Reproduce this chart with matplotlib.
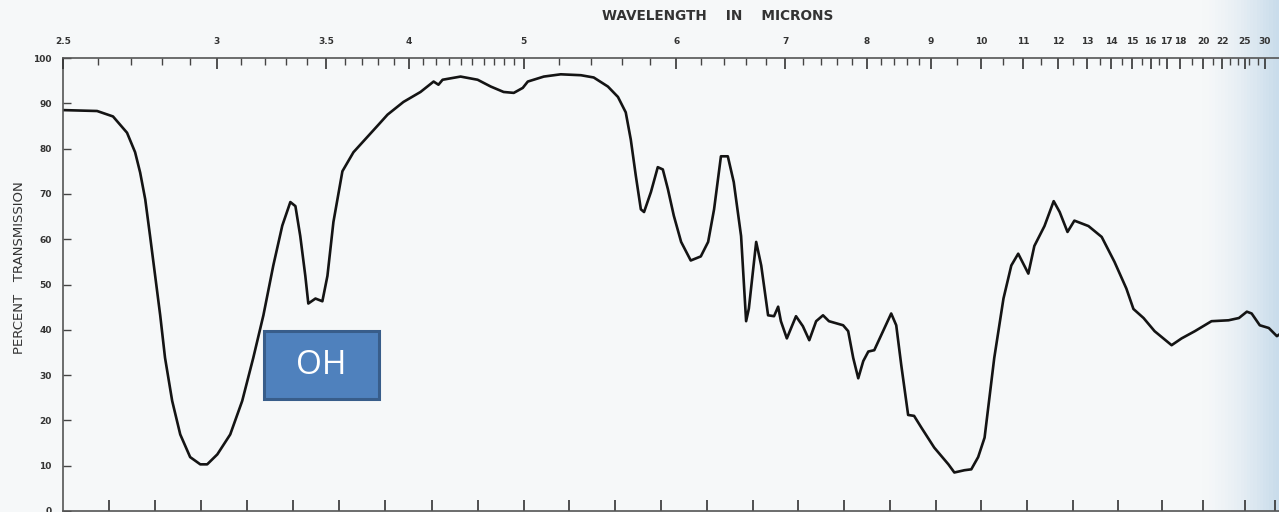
import numpy as np
import matplotlib.pyplot as plt
from matplotlib.colors import LinearSegmentedColormap
from matplotlib.patches import Rectangle
from matplotlib.ticker import FixedLocator, NullFormatter

# IR spectrum: wavenumber (cm-1) and percent transmission
wavenumber = [4000, 3852, 3783, 3722, 3687, 3665, 3643, 3622, 3600, 3578,
              3557, 3526, 3491, 3448, 3404, 3374, 3330, 3274, 3222, 3174,
              3130, 3087, 3048, 3013, 2991, 2970, 2948, 2935, 2904, 2874,
              2852, 2826, 2787, 2739, 2678, 2630, 2591, 2522, 2448, 2391,
              2370, 2352, 2274, 2200, 2143, 2087, 2043, 2004, 1991, 1956,
              1919, 1875, 1847, 1816, 1794, 1777, 1766, 1755, 1744, 1737,
              1722, 1707, 1696, 1685, 1672, 1656, 1635, 1613, 1597, 1584,
              1569, 1554, 1541, 1525, 1514, 1508, 1492, 1481, 1466, 1453,
              1444, 1438, 1425, 1405, 1390, 1376, 1361, 1346, 1333, 1302,
              1291, 1280, 1269, 1258, 1247, 1234, 1219, 1197, 1186, 1175,
              1160, 1147, 1131, 1103, 1072, 1059, 1037, 1022, 1007, 993,
              972, 952, 935, 920, 898, 885, 863, 843, 830, 813,
              798, 766, 736, 707, 680, 664, 641, 616, 576, 552,
              520, 480, 439, 414, 393, 377, 350, 320, 293, 280]
transmission = [88.5, 88.3, 87.1, 83.5, 79.2, 74.7, 68.8, 60.7, 51.9, 43.2,
                33.8, 24.3, 16.9, 11.9, 10.3, 10.3, 12.5, 16.9, 24.3, 33.8,
                43.2, 54.2, 63.0, 68.2, 67.3, 60.7, 51.9, 45.8, 46.9, 46.3,
                51.9, 63.8, 75.0, 79.2, 82.6, 85.3, 87.5, 90.3, 92.5, 94.8,
                94.1, 95.2, 95.9, 95.2, 93.7, 92.5, 92.3, 93.4, 94.8, 95.9,
                96.4, 96.2, 95.7, 93.7, 91.4, 88.0, 82.0, 74.0, 66.6, 66.0,
                70.4, 75.9, 75.4, 71.1, 65.2, 59.4, 55.3, 56.2, 59.4, 66.6,
                78.3, 78.3, 72.6, 60.7, 41.9, 44.7, 59.4, 54.2, 43.2, 43.0,
                45.1, 41.9, 38.1, 43.0, 40.8, 37.7, 41.9, 43.2, 41.9, 41.0,
                39.7, 33.8, 29.3, 33.1, 35.2, 35.5, 38.8, 43.6, 41.0, 32.2,
                21.2, 21.0, 18.4, 14.0, 10.3, 8.5, 9.0, 9.2, 11.9, 16.2,
                33.8, 46.9, 54.2, 56.8, 52.4, 58.5, 62.9, 68.4, 66.0, 61.6,
                64.1, 62.9, 60.5, 55.0, 49.1, 44.6, 42.6, 39.7, 36.6, 38.1,
                39.7, 41.9, 42.1, 42.6, 44.0, 43.6, 41.0, 40.4, 38.6, 39.2]

# top axis labels (microns) and minor ticks
micron_labels = [2.5, 3, 3.5, 4, 5, 6, 7, 8, 9, 10, 11, 12, 13, 14, 15, 16,
                 17, 18, 20, 22, 25, 30]
micron_minor = [2.6, 2.7, 2.8, 2.9, 3.1, 3.2, 3.3, 3.4, 3.6, 3.7, 3.8, 3.9,
                4.1, 4.2, 4.3, 4.4, 4.5, 4.6, 4.7, 4.8, 4.9, 5.2, 5.4, 5.6,
                5.8, 6.2, 6.4, 6.6, 6.8, 7.2, 7.4, 7.6, 7.8, 8.2, 8.4, 8.6,
                8.8, 9.5, 10.5, 11.5, 12.5, 13.5, 14.5, 15.5, 16.5, 19, 21,
                23, 24, 26, 28]
# bottom axis ticks (cm-1)
wn_ticks = [3800, 3600, 3400, 3200, 3000, 2800, 2600, 2400, 2200, 2000,
            1900, 1800, 1700, 1600, 1500, 1400, 1300, 1200, 1100, 1000,
            900, 800, 700, 600, 500, 400, 300]
y_ticks = list(range(0, 101, 10))

# chart paper scale: linear in wavenumber, doubled below 2000 cm-1,
# squeezed towards the binding on the right of the scan
scale_nu = np.array([200, 300, 400, 600, 800, 1000, 2000, 4000, 5000])
scale_pos = np.array([1303, 1273, 1243, 1160, 1072, 980, 523, 63, -167])


def fwd(lam):
    lam = np.asarray(lam, dtype=float)
    with np.errstate(divide='ignore', invalid='ignore'):
        nu = np.where(lam > 0, 1e4 / np.where(lam > 0, lam, 1), 1e9)
    return np.interp(nu, scale_nu, scale_pos)


def inv(pos):
    nu = np.interp(pos, scale_pos[::-1], scale_nu[::-1])
    return 1e4 / nu


fig = plt.figure(figsize=(12.79, 5.12), dpi=100)
fig.patch.set_facecolor('#f6f8f9')

# faint bluish shadow of the book gutter on the right
bg = fig.add_axes([0, 0, 1, 1], zorder=-5)
grad = np.clip((np.linspace(0, 1, 400) - 0.94) / 0.06, 0, 1) ** 1.5
bg.imshow(grad[None, :], aspect='auto', extent=[0, 1, 0, 1],
          cmap=LinearSegmentedColormap.from_list('gut', ['#f6f8f9', '#c9dceb']),
          vmin=0, vmax=1)
bg.axis('off')

ax = fig.add_axes([63 / 1279, 1 / 512, 1 - 63 / 1279, 453 / 512])
ax.patch.set_alpha(0)

lam = 1e4 / np.array(wavenumber, dtype=float)
xlim = (1e4 / 4000, 1e4 / 286)
ax.set_xscale('function', functions=(fwd, inv))
ax.plot(lam, transmission, color='#141414', lw=1.9, solid_joinstyle='round')
ax.set_xlim(*xlim)
ax.set_ylim(0, 100)

# left axis
ax.set_yticks(y_ticks)
ax.set_yticklabels([str(v) for v in y_ticks], fontsize=6.5, fontweight='bold')
ax.tick_params(axis='y', direction='in', length=6, width=1, pad=8,
               colors='#444444', labelcolor='#333333')

# bottom ticks in wavenumber, no labels (cut off in the scan)
ax.xaxis.set_major_locator(FixedLocator(1e4 / np.array(wn_ticks)))
ax.xaxis.set_major_formatter(NullFormatter())
ax.xaxis.set_minor_locator(FixedLocator([]))
ax.tick_params(axis='x', which='major', direction='in', length=8, width=1.2,
               colors='#333333', top=False, bottom=True)

# top axis in microns
top = ax.twiny()
top.set_xscale('function', functions=(fwd, inv))
top.set_xlim(*xlim)
top.xaxis.set_major_locator(FixedLocator(micron_labels))
top.xaxis.set_minor_locator(FixedLocator(micron_minor))
top.xaxis.set_minor_formatter(NullFormatter())
top.set_xticklabels([('%g' % v) for v in micron_labels], fontsize=6.5,
                    fontweight='bold', color='#333333')
top.tick_params(which='major', direction='in', length=8, width=1.2,
                pad=9, colors='#333333')
top.tick_params(which='minor', direction='in', length=5, width=1,
                colors='#444444')
for side in ['left', 'right', 'bottom']:
    top.spines[side].set_visible(False)
top.spines['top'].set_color('#555555')
top.spines['top'].set_linewidth(1.2)

for side in ['left', 'bottom']:
    ax.spines[side].set_color('#555555')
    ax.spines[side].set_linewidth(1.2)
ax.spines['right'].set_visible(False)
ax.spines['top'].set_visible(False)

fig.text(0.561, 0.969, 'WAVELENGTH    IN    MICRONS', ha='center',
         va='center', fontsize=9.8, fontweight='bold', color='#333333')
fig.text(0.015, 0.478, 'PERCENT   TRANSMISSION', rotation=90, ha='center',
         va='center', fontsize=9.5, color='#333333')

# "OH" label box
fig.add_artist(Rectangle((264 / 1279, 113 / 512), 115 / 1279, 68 / 512,
                         transform=fig.transFigure, facecolor='#4f81bd',
                         edgecolor='#385d8a', linewidth=2.2, zorder=10))
fig.text(321 / 1279, 147 / 512, 'OH', ha='center', va='center',
         fontsize=24, color='white', family='Open Sans', zorder=11)

fig.savefig('out.png', dpi=100, facecolor=fig.get_facecolor())
